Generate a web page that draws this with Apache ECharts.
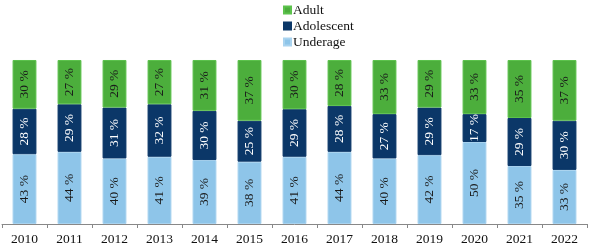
<!DOCTYPE html>
<html>
<head>
<meta charset="utf-8">
<script src="https://cdn.jsdelivr.net/npm/echarts@6/dist/echarts.min.js"></script>
<style>
html,body{margin:0;padding:0;background:#fff;}
#chart{width:589px;height:251px;}
</style>
</head>
<body>
<div id="chart"></div>
<script>
var years = ['2010','2011','2012','2013','2014','2015','2016','2017','2018','2019','2020','2021','2022'];
var underage   = [43, 44, 40, 41, 39, 38, 41, 44, 40, 42, 50, 35, 33];
var adolescent = [28, 29, 31, 32, 30, 25, 29, 28, 27, 29, 17, 29, 30];
var adult      = [30, 27, 29, 27, 31, 37, 30, 28, 33, 29, 33, 35, 37];

// 100% stacked: each bar scaled to its year total, labels keep the raw numbers
function share(arr) {
    return arr.map(function (v, i) {
        var total = underage[i] + adolescent[i] + adult[i];
        return v / total * 100;
    });
}

function mkSeries(name, raw, color, border, labelColor) {
    return {
        name: name,
        type: 'bar',
        stack: 'all',
        barWidth: '53%',
        data: share(raw),
        itemStyle: { color: color, borderColor: border, borderWidth: 1 },
        label: {
            show: true,
            rotate: 90,
            position: 'inside',
            color: labelColor,
            fontFamily: 'Liberation Serif',
            fontSize: 13.5,
            formatter: function (p) { return raw[p.dataIndex] + ' %'; }
        }
    };
}

var myChart = echarts.init(document.getElementById('chart'));
var option = {
    animation: false,
    textStyle: { fontFamily: 'Liberation Serif' },
    legend: {
        orient: 'vertical',
        left: 278,
        top: -2,
        itemWidth: 7,
        itemHeight: 7,
        itemGap: 2,
        icon: 'rect',
        data: ['Adult', 'Adolescent', 'Underage'],
        textStyle: { fontFamily: 'Liberation Serif', fontSize: 13.5, color: '#111', padding: [0, 0, 0, -3] }
    },
    grid: { left: 2, right: 2, top: 60, bottom: 27 },
    xAxis: {
        type: 'category',
        data: years,
        axisLine: { lineStyle: { color: '#888', width: 1 } },
        axisTick: { show: true, length: 4, lineStyle: { color: '#888' } },
        axisLabel: { color: '#111', fontSize: 13.5, fontFamily: 'Liberation Serif', margin: 8 }
    },
    yAxis: {
        type: 'value',
        min: 0,
        max: 100,
        show: false
    },
    series: [
        mkSeries('Underage', underage, '#8ec5e9', '#a9d3ef', '#1a1a1a'),
        mkSeries('Adolescent', adolescent, '#0b3768', '#0b3768', '#ffffff'),
        mkSeries('Adult', adult, '#4cae3c', '#5cc24c', '#1a1a1a')
    ]
};
myChart.setOption(option);
</script>
</body>
</html>
